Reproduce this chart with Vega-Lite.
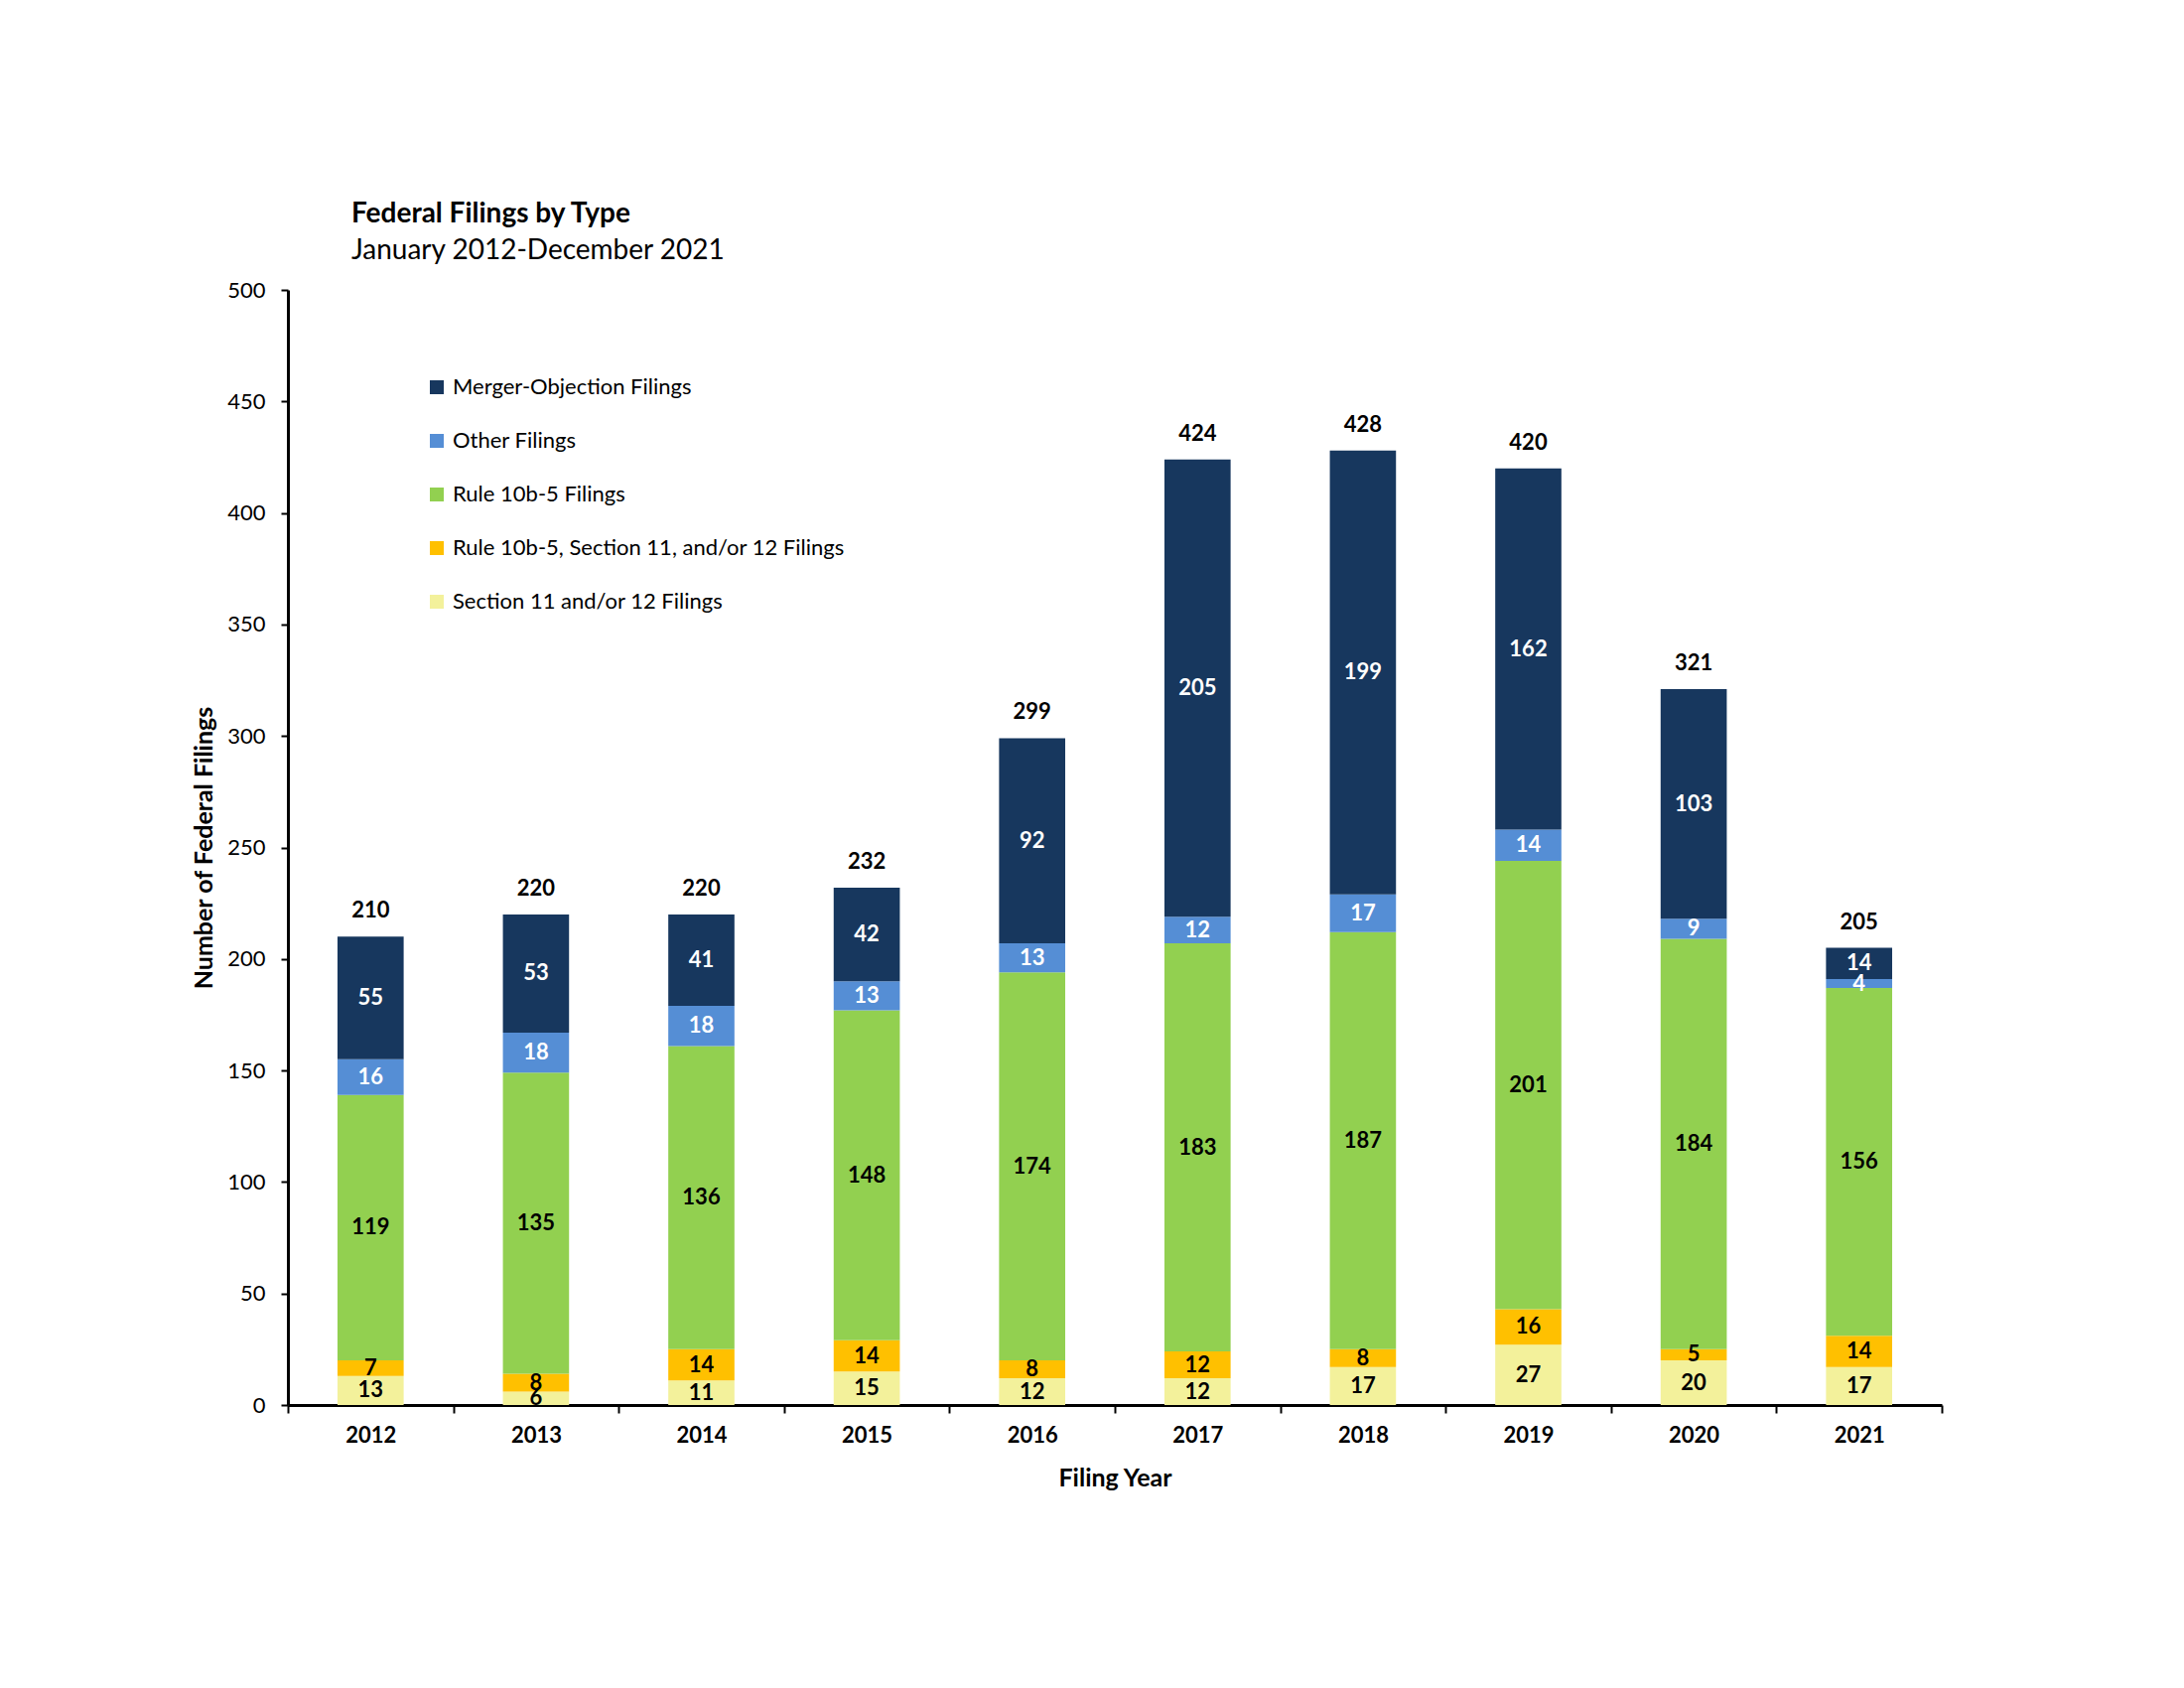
{
  "$schema": "https://vega.github.io/schema/vega-lite/v6.json",
  "autosize": {"type": "none"},
  "width": 1666,
  "height": 1123,
  "padding": {"left": 290, "top": 292, "right": 244, "bottom": 285},
  "background": "white",
  "title": {
    "text": "Federal Filings by Type",
    "subtitle": "January 2012-December 2021",
    "anchor": "start",
    "frame": "group",
    "dx": 64,
    "offset": 14,
    "font": "Lato",
    "fontSize": 28,
    "fontWeight": "bold",
    "color": "black",
    "subtitleFont": "Lato",
    "subtitleFontSize": 28,
    "subtitleColor": "black",
    "subtitlePadding": 9
  },
  "config": {"view": {"stroke": null}, "font": "Lato"},
  "data": {
    "values": [
      {"year": "2012", "type": "Section 11 and/or 12 Filings", "count": 13},
      {"year": "2012", "type": "Rule 10b-5, Section 11, and/or 12 Filings", "count": 7},
      {"year": "2012", "type": "Rule 10b-5 Filings", "count": 119},
      {"year": "2012", "type": "Other Filings", "count": 16},
      {"year": "2012", "type": "Merger-Objection Filings", "count": 55},
      {"year": "2013", "type": "Section 11 and/or 12 Filings", "count": 6},
      {"year": "2013", "type": "Rule 10b-5, Section 11, and/or 12 Filings", "count": 8},
      {"year": "2013", "type": "Rule 10b-5 Filings", "count": 135},
      {"year": "2013", "type": "Other Filings", "count": 18},
      {"year": "2013", "type": "Merger-Objection Filings", "count": 53},
      {"year": "2014", "type": "Section 11 and/or 12 Filings", "count": 11},
      {"year": "2014", "type": "Rule 10b-5, Section 11, and/or 12 Filings", "count": 14},
      {"year": "2014", "type": "Rule 10b-5 Filings", "count": 136},
      {"year": "2014", "type": "Other Filings", "count": 18},
      {"year": "2014", "type": "Merger-Objection Filings", "count": 41},
      {"year": "2015", "type": "Section 11 and/or 12 Filings", "count": 15},
      {"year": "2015", "type": "Rule 10b-5, Section 11, and/or 12 Filings", "count": 14},
      {"year": "2015", "type": "Rule 10b-5 Filings", "count": 148},
      {"year": "2015", "type": "Other Filings", "count": 13},
      {"year": "2015", "type": "Merger-Objection Filings", "count": 42},
      {"year": "2016", "type": "Section 11 and/or 12 Filings", "count": 12},
      {"year": "2016", "type": "Rule 10b-5, Section 11, and/or 12 Filings", "count": 8},
      {"year": "2016", "type": "Rule 10b-5 Filings", "count": 174},
      {"year": "2016", "type": "Other Filings", "count": 13},
      {"year": "2016", "type": "Merger-Objection Filings", "count": 92},
      {"year": "2017", "type": "Section 11 and/or 12 Filings", "count": 12},
      {"year": "2017", "type": "Rule 10b-5, Section 11, and/or 12 Filings", "count": 12},
      {"year": "2017", "type": "Rule 10b-5 Filings", "count": 183},
      {"year": "2017", "type": "Other Filings", "count": 12},
      {"year": "2017", "type": "Merger-Objection Filings", "count": 205},
      {"year": "2018", "type": "Section 11 and/or 12 Filings", "count": 17},
      {"year": "2018", "type": "Rule 10b-5, Section 11, and/or 12 Filings", "count": 8},
      {"year": "2018", "type": "Rule 10b-5 Filings", "count": 187},
      {"year": "2018", "type": "Other Filings", "count": 17},
      {"year": "2018", "type": "Merger-Objection Filings", "count": 199},
      {"year": "2019", "type": "Section 11 and/or 12 Filings", "count": 27},
      {"year": "2019", "type": "Rule 10b-5, Section 11, and/or 12 Filings", "count": 16},
      {"year": "2019", "type": "Rule 10b-5 Filings", "count": 201},
      {"year": "2019", "type": "Other Filings", "count": 14},
      {"year": "2019", "type": "Merger-Objection Filings", "count": 162},
      {"year": "2020", "type": "Section 11 and/or 12 Filings", "count": 20},
      {"year": "2020", "type": "Rule 10b-5, Section 11, and/or 12 Filings", "count": 5},
      {"year": "2020", "type": "Rule 10b-5 Filings", "count": 184},
      {"year": "2020", "type": "Other Filings", "count": 9},
      {"year": "2020", "type": "Merger-Objection Filings", "count": 103},
      {"year": "2021", "type": "Section 11 and/or 12 Filings", "count": 17},
      {"year": "2021", "type": "Rule 10b-5, Section 11, and/or 12 Filings", "count": 14},
      {"year": "2021", "type": "Rule 10b-5 Filings", "count": 156},
      {"year": "2021", "type": "Other Filings", "count": 4},
      {"year": "2021", "type": "Merger-Objection Filings", "count": 14}
    ]
  },
  "encoding": {
    "x": {
      "field": "year",
      "type": "ordinal",
      "title": "Filing Year",
      "scale": {"paddingInner": 0, "paddingOuter": 0},
      "axis": {
        "tickBand": "extent",
        "labelAngle": 0,
        "domainColor": "black",
        "domainWidth": 3,
        "tickColor": "black",
        "tickWidth": 2,
        "tickSize": 8,
        "labelFont": "Lato",
        "labelFontSize": 22,
        "labelFontWeight": "bold",
        "labelColor": "black",
        "labelPadding": 12,
        "titleFont": "Lato",
        "titleFontSize": 25,
        "titleFontWeight": "bold",
        "titleColor": "black",
        "titlePadding": 20
      }
    }
  },
  "layer": [
    {
      "mark": {"type": "bar", "width": {"band": 0.4}},
      "encoding": {
        "y": {
          "field": "count",
          "type": "quantitative",
          "stack": "zero",
          "title": "Number of Federal Filings",
          "scale": {"domain": [0, 500], "nice": false},
          "axis": {
            "values": [0, 50, 100, 150, 200, 250, 300, 350, 400, 450, 500],
            "grid": false,
            "domainColor": "black",
            "domainWidth": 3,
            "tickColor": "black",
            "tickWidth": 2,
            "tickSize": 7,
            "labelFont": "Lato",
            "labelFontSize": 22,
            "labelColor": "black",
            "labelPadding": 16,
            "titleFont": "Lato",
            "titleFontSize": 25,
            "titleFontWeight": "bold",
            "titleColor": "black",
            "titlePadding": 10
          }
        },
        "color": {
          "field": "type",
          "type": "nominal",
          "scale": {
            "domain": ["Merger-Objection Filings", "Other Filings", "Rule 10b-5 Filings", "Rule 10b-5, Section 11, and/or 12 Filings", "Section 11 and/or 12 Filings"],
            "range": ["#17375E", "#558ED5", "#92D050", "#FFC000", "#F3F19B"]
          },
          "legend": {
            "orient": "none",
            "legendX": 139,
            "legendY": 87,
            "title": null,
            "symbolType": "square",
            "symbolSize": 196,
            "symbolStrokeWidth": 0,
            "labelFont": "Lato",
            "labelFontSize": 22,
            "labelColor": "black",
            "labelLimit": 800,
            "rowPadding": 32,
            "labelOffset": 5,
            "padding": 0
          }
        },
        "order": {"field": "type", "sort": "descending"}
      }
    },
    {
      "mark": {"type": "text", "fontSize": 22, "fontWeight": "bold", "font": "Lato", "baseline": "middle"},
      "encoding": {
        "y": {"field": "count", "type": "quantitative", "stack": "zero", "bandPosition": 0.5, "title": "Number of Federal Filings"},
        "detail": {"field": "type"},
        "order": {"field": "type", "sort": "descending"},
        "text": {"field": "count", "type": "quantitative"},
        "color": {
          "condition": {"test": "datum.type === 'Merger-Objection Filings' || datum.type === 'Other Filings'", "value": "white"},
          "value": "black"
        }
      }
    },
    {
      "mark": {"type": "text", "fontSize": 22, "fontWeight": "bold", "font": "Lato", "baseline": "alphabetic", "dy": -19, "color": "black"},
      "encoding": {
        "y": {"aggregate": "sum", "field": "count", "type": "quantitative", "title": "Number of Federal Filings"},
        "text": {"aggregate": "sum", "field": "count", "type": "quantitative"}
      }
    }
  ]
}
